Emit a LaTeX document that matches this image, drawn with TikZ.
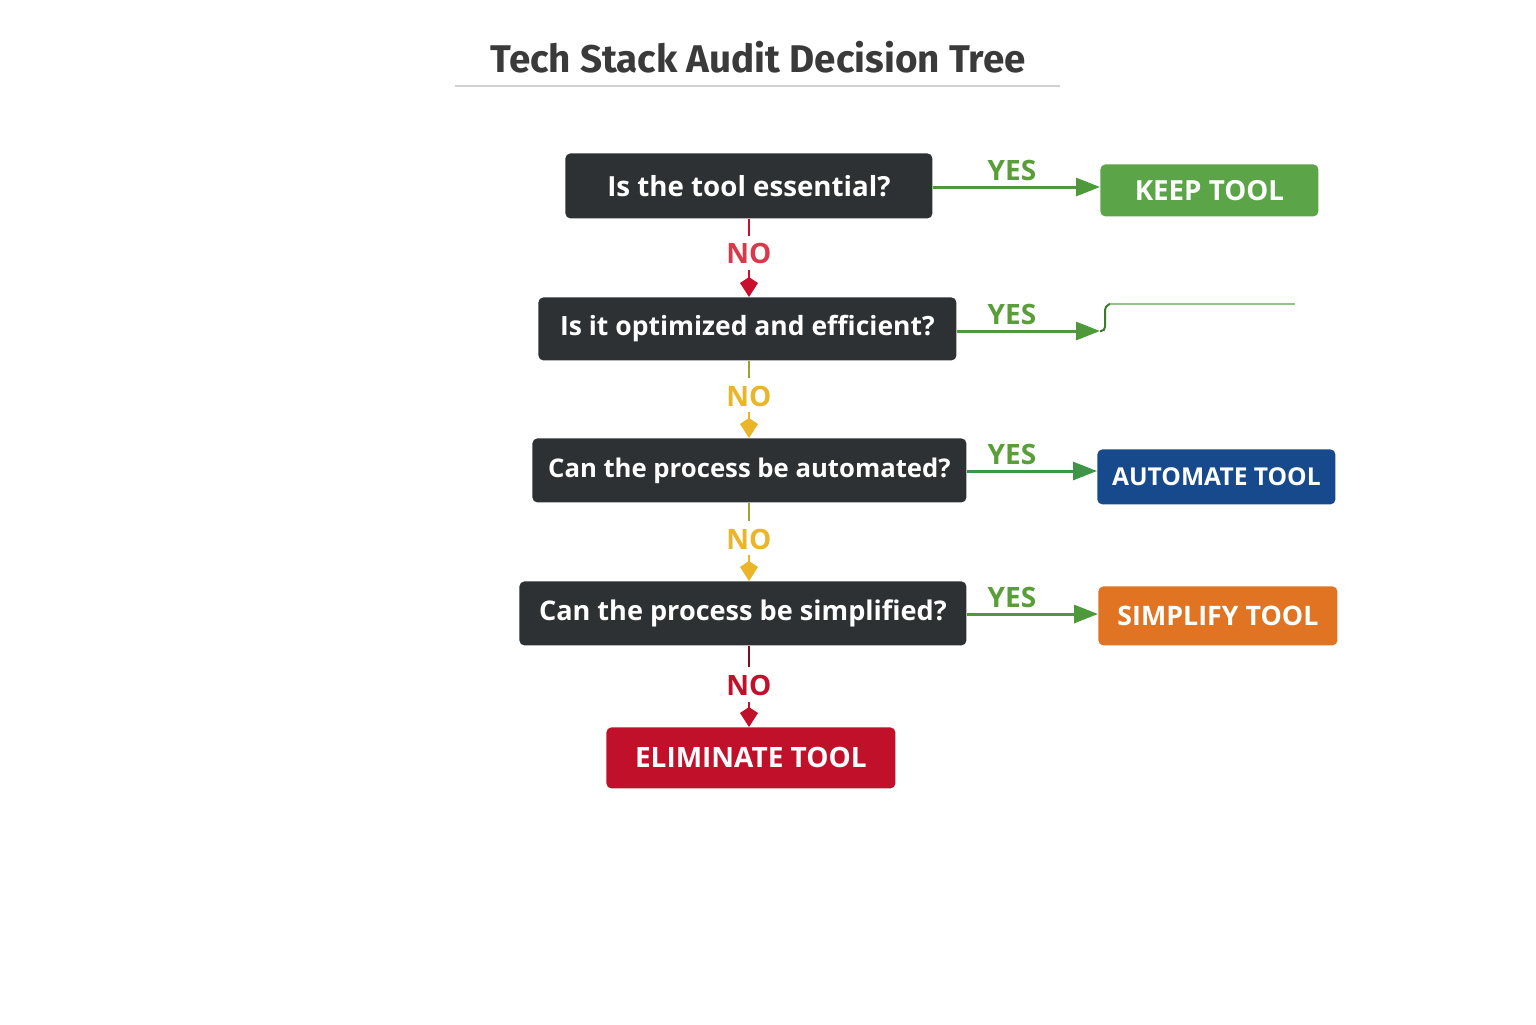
\documentclass[tikz,border=0pt]{standalone}
\usepackage{fontspec}
\setmainfont{Open Sans}
\newfontfamily\titlefont{Fira Sans}
\usetikzlibrary{arrows.meta}
\definecolor{darkbox}{HTML}{2E3134}
\definecolor{yesgreen}{HTML}{4E9A3A}
\definecolor{yestext}{HTML}{5A9E3A}
\definecolor{keepg}{HTML}{5BA548}
\definecolor{nored}{HTML}{C8102E}
\definecolor{noredtxt}{HTML}{D83A4C}
\definecolor{noyel}{HTML}{EAB528}
\definecolor{olive}{HTML}{A0A030}
\definecolor{elim}{HTML}{C0102A}
\definecolor{darkred}{HTML}{801020}
\definecolor{autob}{HTML}{174A8C}
\definecolor{simpo}{HTML}{E07422}
\definecolor{titlec}{HTML}{3A3A3A}
\newcommand{\fsz}[1]{\fontsize{#1}{15pt}\selectfont\bfseries}
\tikzset{
  qbox/.style={fill=darkbox, rounded corners=2.5pt, text=white, inner sep=0pt, anchor=north west},
  rbox/.style={rounded corners=2.5pt, text=white, inner sep=0pt, anchor=north west},
  yeslab/.style={text=yestext, font=\fsz{14pt}, inner sep=0pt, above=2.5pt},
  nolab/.style={font=\fsz{14pt}, inner sep=1pt},
  yesarr/.style={draw=yesgreen, line width=1.5pt, -{Triangle[length=12pt,width=9pt]}},
  gem/.style={-{Kite[length=10pt,width=9pt,inset=3pt]}, line width=1pt},
}
\begin{document}
\begin{tikzpicture}[x=0.5pt,y=-0.5pt]
\useasboundingbox (0,0) rectangle (1536,1024);
\fill[white] (0,0) rectangle (1536,1024);
% title
\node[text=titlec, font=\titlefont\fontsize{19.3pt}{22pt}\selectfont\bfseries, inner sep=0pt] (title) at (758,57) {Tech Stack Audit Decision Tree};
\draw[black!18, line width=0.8pt] (455,86) coordinate (ul1) -- (1060,86) coordinate (ul2);
% question boxes
\node[qbox, font=\fsz{13.85pt}, minimum width=183.5pt, minimum height=32.5pt] (q1) at (565,153) {Is the tool essential?};
\node[qbox, font=\fsz{13.25pt}, minimum width=209pt, minimum height=31.5pt] (q2) at (538,297) {Is it optimized and efficient?};
\node[qbox, font=\fsz{12.85pt}, minimum width=217pt, minimum height=32pt] (q3) at (532,438) {Can the process be automated?};
\node[qbox, font=\fsz{13.55pt}, minimum width=223.5pt, minimum height=32pt] (q4) at (519,581) {Can the process be simplified?};
% result boxes
\node[rbox, font=\fsz{13.85pt}, fill=keepg, minimum width=109pt, minimum height=26pt] (keep) at (1100,164) {KEEP TOOL};
\node[rbox, font=\fsz{12.3pt}, fill=autob, minimum width=119pt, minimum height=27.5pt] (auto) at (1097,449) {AUTOMATE TOOL};
\node[rbox, font=\fsz{13.4pt}, fill=simpo, minimum width=119.5pt, minimum height=29.5pt] (simp) at (1098,586) {SIMPLIFY TOOL};
\node[rbox, font=\fsz{14pt}, fill=elim, minimum width=144.5pt, minimum height=30.5pt] (elim) at (606,727) {ELIMINATE TOOL};
% YES arrows
\draw[yesarr] (q1.east |- 0,187) -- (keep.west |- 0,187) node[yeslab] at (1012,187) {YES};
\coordinate (y2end) at (1100,331);
\coordinate (y2far) at (1295,304);
\draw[yesarr] (q2.east |- 0,331) -- (y2end) node[yeslab] at (1012,331) {YES};
\draw[yesgreen!80!black, line width=1pt, rounded corners=2pt] (y2end) -- (1105,331) -- (1105,306) -- (1110,304);
\draw[yesgreen!60, line width=0.8pt] (1110,304) -- (y2far);
\draw[yesarr, draw=yesgreen!80!teal] (q3.east |- 0,471) -- (auto.west |- 0,471) node[yeslab] at (1012,471) {YES};
\draw[yesarr] (q4.east |- 0,614) -- (simp.west |- 0,614) node[yeslab] at (1012,614) {YES};
% NO arrows
\node[nolab, text=noredtxt] (no1) at (749,253) {NO};
\draw[nored, line width=1.2pt] (q1.south -| 749,0) -- (749,236);
\draw[gem, nored] (749,270) -- (q2.north -| 749,0);
\node[nolab, text=noyel] (no2) at (749,396) {NO};
\draw[olive, line width=1.2pt] (q2.south -| 749,0) -- (749,378);
\draw[gem, noyel] (749,412) -- (q3.north -| 749,0);
\node[nolab, text=noyel] (no3) at (749,539) {NO};
\draw[olive, line width=1.2pt] (q3.south -| 749,0) -- (749,521);
\draw[gem, noyel] (749,555) -- (q4.north -| 749,0);
\node[nolab, text=elim] (no4) at (749,685) {NO};
\draw[darkred, line width=1.2pt] (q4.south -| 749,0) -- (749,667);
\draw[gem, elim] (749,702) -- (elim.north -| 749,0);
\end{tikzpicture}
\end{document}
